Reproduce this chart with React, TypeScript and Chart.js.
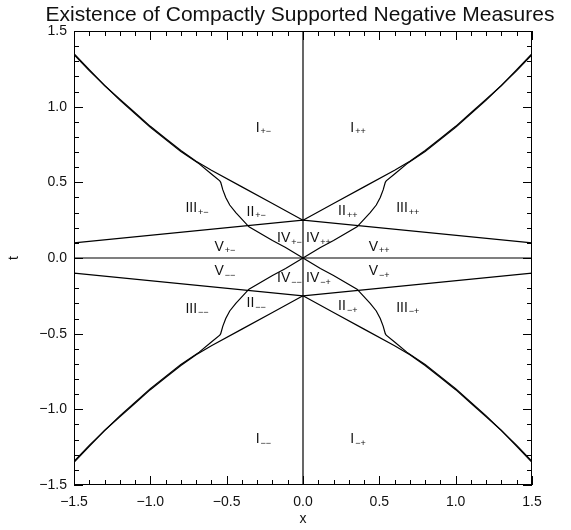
import { useEffect, useRef } from "react";
import { Chart, registerables } from "chart.js";

Chart.register(...registerables);

// Outer boundary, first quadrant (x >= 0, t >= 0); other quadrants by symmetry
const outerX = [0, 0.2, 0.4, 0.6, 0.7, 0.8, 0.9, 1.0, 1.1, 1.2, 1.3, 1.4, 1.5];
const outerT = [0.25, 0.36, 0.47, 0.58, 0.64, 0.71, 0.79, 0.87, 0.96, 1.05, 1.14, 1.245, 1.35];

// Inner boundary leaving the origin, first quadrant; it runs just under the
// outer boundary once the two meet
const innerX = [0, 0.114, 0.2, 0.354, 0.44, 0.48, 0.506, 0.525, 0.539, 0.545, 0.6, 0.68, 0.8, 1.0, 1.2, 1.4, 1.5];
const innerT = [0, 0.07, 0.115, 0.206, 0.3, 0.35, 0.4, 0.45, 0.5, 0.51, 0.555, 0.622, 0.703, 0.863, 1.043, 1.238, 1.344];

// Shallow wedge through t = 0.25 at x = 0
const wedgeX = [-1.5, 0, 1.5];
const wedgeT = [0.1, 0.25, 0.1];

// Region labels: numeral, subscript, left edge x, centre t
const regionNames = [
  "I", "I", "I", "I",
  "II", "II", "II", "II",
  "III", "III", "III", "III",
  "IV", "IV", "IV", "IV",
  "V", "V", "V", "V",
];
const regionSubs = [
  "+−", "++", "−−", "−+",
  "+−", "++", "−−", "−+",
  "+−", "++", "−−", "−+",
  "+−", "++", "−−", "−+",
  "+−", "++", "−−", "−+",
];
const regionX = [
  -0.31, 0.31, -0.31, 0.31,
  -0.37, 0.23, -0.37, 0.23,
  -0.77, 0.61, -0.77, 0.61,
  -0.17, 0.02, -0.17, 0.02,
  -0.58, 0.43, -0.58, 0.43,
];
const regionT = [
  0.86, 0.86, -1.2, -1.2,
  0.306, 0.31, -0.3, -0.32,
  0.33, 0.33, -0.335, -0.33,
  0.13, 0.13, -0.134, -0.134,
  0.075, 0.075, -0.09, -0.09,
];

const axisTicks = [-1.5, -1.0, -0.5, 0.0, 0.5, 1.0, 1.5];
const titleText = "Existence of Compactly Supported Negative Measures";

const FONT = "'Liberation Sans', Arial, sans-serif";

const fmt = (v: number) => {
  const s = Math.abs(v).toFixed(1);
  return v < -1e-9 ? "\u2212" + s : s;
};

const pts = (xs: number[], ts: number[], sx = 1, st = 1) =>
  xs.map((x, i) => ({ x: x * sx, y: ts[i] * st }));

const lineSet = (data: { x: number; y: number }[]) => ({
  data,
  showLine: true,
  borderColor: "#000",
  borderWidth: 1.2,
  pointRadius: 0,
  fill: false,
  tension: 0,
});

// Box, inward ticks, title and region labels
const decorPlugin = {
  id: "decor",
  afterDatasetsDraw(chart: any) {
    const { ctx, chartArea: a, scales } = chart;
    const xs = scales.x;
    const ys = scales.y;
    ctx.save();
    ctx.strokeStyle = "#000";
    ctx.lineWidth = 1;
    ctx.strokeRect(a.left + 0.5, a.top + 0.5, a.right - a.left - 1, a.bottom - a.top - 1);

    ctx.beginPath();
    for (let k = -15; k <= 15; k++) {
      const major = k % 5 === 0;
      const len = major ? 9 : 5;
      const v = k / 10;
      const px = Math.round(xs.getPixelForValue(v)) + 0.5;
      ctx.moveTo(px, a.bottom);
      ctx.lineTo(px, a.bottom - len);
      ctx.moveTo(px, a.top);
      ctx.lineTo(px, a.top + len);
      const py = Math.round(ys.getPixelForValue(v)) + 0.5;
      ctx.moveTo(a.left, py);
      ctx.lineTo(a.left + len, py);
      ctx.moveTo(a.right, py);
      ctx.lineTo(a.right - len, py);
    }
    ctx.stroke();

    ctx.fillStyle = "#111";
    ctx.textBaseline = "middle";
    ctx.textAlign = "center";
    ctx.font = `21px ${FONT}`;
    ctx.fillText(titleText, 300, 15);

    ctx.textAlign = "left";
    for (let i = 0; i < regionNames.length; i++) {
      const px = xs.getPixelForValue(regionX[i]);
      const py = ys.getPixelForValue(regionT[i]);
      ctx.font = `14px ${FONT}`;
      ctx.fillText(regionNames[i], px, py);
      const w = ctx.measureText(regionNames[i]).width;
      ctx.font = `9px ${FONT}`;
      ctx.fillText(regionSubs[i], px + w + 1, py + 4);
    }
    ctx.restore();
  },
};

export default function App() {
  const ref = useRef<HTMLCanvasElement | null>(null);

  useEffect(() => {
    if (!ref.current) return;
    const quads = [
      [1, 1],
      [-1, 1],
      [1, -1],
      [-1, -1],
    ];
    const datasets: any[] = [];
    datasets.push(lineSet([{ x: 0, y: -1.5 }, { x: 0, y: 1.5 }]));
    datasets.push(lineSet([{ x: -1.5, y: 0 }, { x: 1.5, y: 0 }]));
    datasets.push(lineSet(pts(wedgeX, wedgeT)));
    datasets.push(lineSet(pts(wedgeX, wedgeT, 1, -1)));
    for (const [sx, st] of quads) {
      datasets.push(lineSet(pts(outerX, outerT, sx, st)));
      datasets.push(lineSet(pts(innerX, innerT, sx, st)));
    }

    const tickCfg = {
      color: "#111",
      font: { family: FONT, size: 14 },
      callback: (v: any) => fmt(Number(v)),
    };

    const chart = new Chart(ref.current, {
      type: "scatter",
      data: { datasets },
      plugins: [decorPlugin],
      options: {
        animation: false,
        responsive: false,
        devicePixelRatio: 1,
        layout: { padding: { top: 31, right: 39, bottom: 0, left: 0 } },
        plugins: {
          legend: { display: false },
          tooltip: { enabled: false },
          title: { display: false },
        },
        scales: {
          x: {
            type: "linear",
            min: -1.5,
            max: 1.5,
            afterBuildTicks: (s: any) => {
              s.ticks = axisTicks.map((value) => ({ value }));
            },
            afterFit: (s: any) => {
              s.height = 45;
            },
            grid: { display: false, drawTicks: false },
            border: { display: false },
            ticks: { ...tickCfg, padding: 9, maxRotation: 0, autoSkip: false },
            title: {
              display: true,
              text: "x",
              color: "#111",
              font: { family: FONT, size: 14 },
              padding: { top: 0, bottom: 2 },
            },
          },
          y: {
            type: "linear",
            min: -1.5,
            max: 1.5,
            afterBuildTicks: (s: any) => {
              s.ticks = axisTicks.map((value) => ({ value }));
            },
            afterFit: (s: any) => {
              s.width = 74;
            },
            grid: { display: false, drawTicks: false },
            border: { display: false },
            ticks: { ...tickCfg, padding: 7, autoSkip: false },
            title: {
              display: true,
              text: "t",
              color: "#111",
              font: { family: FONT, size: 14 },
              padding: { top: 6, bottom: 0 },
            },
          },
        },
      },
    });
    return () => chart.destroy();
  }, []);

  return (
    <div style={{ position: "absolute", left: 0, top: 0, width: 571, height: 530, background: "#fff" }}>
      <canvas ref={ref} width={571} height={530} style={{ display: "block" }} />
    </div>
  );
}
